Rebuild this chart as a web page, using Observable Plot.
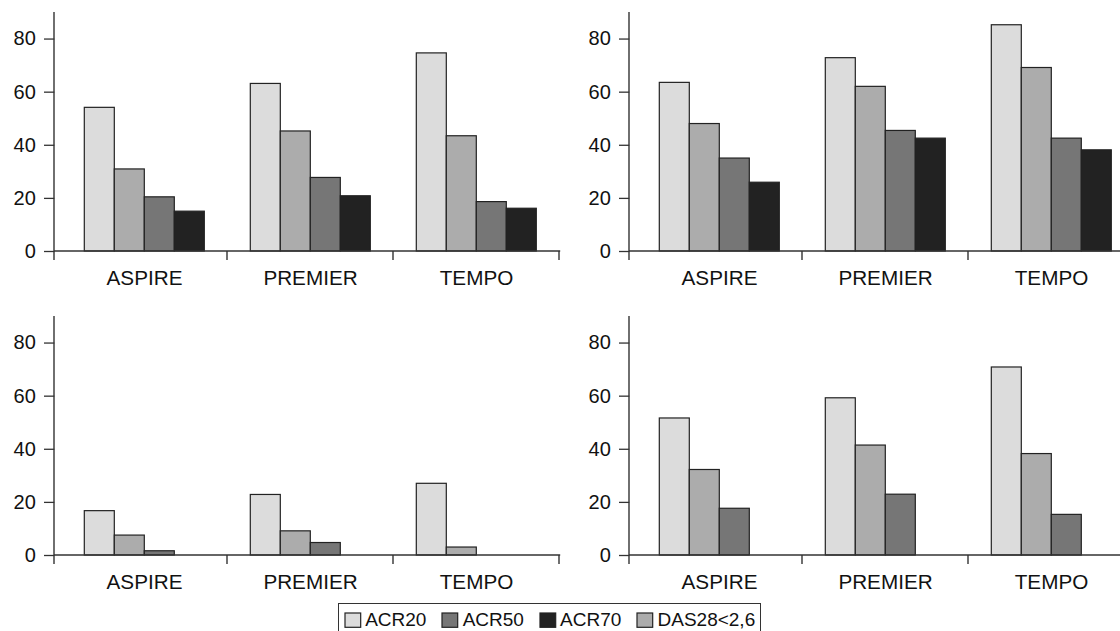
<!DOCTYPE html>
<html>
<head>
<meta charset="utf-8">
<script src="https://cdn.jsdelivr.net/npm/d3@7"></script>
<script src="https://cdn.jsdelivr.net/npm/@observablehq/plot@0.6"></script>
<style>
html, body { margin: 0; padding: 0; background: #fff; overflow: hidden; }
#wrap { position: relative; width: 1120px; height: 631px; overflow: hidden; font-family: "Liberation Sans", Arial, sans-serif; }
.panel { position: absolute; width: 575px; height: 304px; }
#legendBox { position: absolute; left: 338px; top: 603px; border: 1.3px solid #333; padding: 5px 5px 12px 6px; background: #fff; }
#legendBox > div { font-family: "Liberation Sans", Arial, sans-serif; font-size: 19px; color: #111; margin: 0; min-height: 0; display: flex; align-items: center; flex-wrap: nowrap; }
#legendBox span { display: inline-flex; align-items: center; margin-right: 16px; }
#legendBox span:last-child { margin-right: 0; }
#legendBox span > svg { margin-right: 4.5px; overflow: visible; }
#legendBox span rect { stroke: #222; stroke-width: 1.2px; }
</style>
</head>
<body>
<div id="wrap">
  <div class="panel" id="tl" style="left:0;top:0"></div>
  <div class="panel" id="tr" style="left:575px;top:0"></div>
  <div class="panel" id="bl" style="left:0;top:304px"></div>
  <div class="panel" id="br" style="left:575px;top:304px"></div>
  <div id="legendBox"></div>
</div>
<script>
// ---- data ----
const studies = ["ASPIRE", "PREMIER", "TEMPO"];
const barSeries = ["ACR20", "DAS28<2,6", "ACR50", "ACR70"];      // order of bars inside a group
const legendSeries = ["ACR20", "ACR50", "ACR70", "DAS28<2,6"];   // order in the legend
const legendColors = ["#dcdcdc", "#767676", "#222222", "#acacac"];
const yTicks = [0, 20, 40, 60, 80];
const yMax = 90;
// rows = studies, columns = barSeries (null = no bar)
const topLeft     = [[54.1, 30.9, 20.4, 15.0], [63.1, 45.2, 27.7, 20.8], [74.6, 43.4, 18.6, 16.1]];
const topRight    = [[63.5, 48.0, 35.0, 25.9], [72.8, 62.0, 45.4, 42.5], [85.2, 69.1, 42.5, 38.1]];
const bottomLeft  = [[16.7, 7.5, 1.6, null], [22.8, 9.1, 4.7, null], [27.0, 3.0, null, null]];
const bottomRight = [[51.6, 32.2, 17.6, null], [59.2, 41.4, 22.9, null], [70.8, 38.2, 15.3, null]];

const FONT = "'Liberation Sans', Arial, Helvetica, sans-serif";

function panel(values) {
  const data = [];
  studies.forEach((s, i) => barSeries.forEach((k, j) => {
    const v = values[i][j];
    if (v != null) data.push({study: s, series: k, value: v});
  }));
  const chart = Plot.plot({
    width: 575, height: 304,
    marginLeft: 60.7, marginRight: 14.8, marginTop: 12, marginBottom: 53,
    style: {fontFamily: FONT, fontSize: "20px", color: "#111", background: "transparent"},
    fx: {domain: studies, padding: 0, axis: null, label: null},
    x: {domain: barSeries, paddingInner: 0, paddingOuter: 0.73, axis: null},
    y: {domain: [0, yMax], axis: null},
    color: {domain: legendSeries, range: legendColors},
    marks: [
      Plot.barY(data, {fx: "study", x: "series", y: "value", fill: "series", stroke: "#222", strokeWidth: 1.2, inset: 0}),
      Plot.axisY({ticks: yTicks, tickSize: 10.3, tickPadding: 8.7, dx: -6.7, fontSize: 20, stroke: "#333", fill: "#111", strokeWidth: 1.3, label: null}),
      Plot.axisFx({anchor: "bottom", tickSize: 0, tickPadding: 18.3, fontSize: 20.7, fill: "#111", label: null})
    ]
  });
  // axis line, baseline and group separators, placed with the plot's own scales
  const fxS = chart.scale("fx"), yS = chart.scale("y");
  const y0 = yS.apply(0), yTop = yS.apply(yMax);
  const axisX = fxS.range[0] - 6.7;
  const g = d3.select(chart).append("g").attr("stroke", "#333").attr("stroke-width", 1.4).attr("fill", "none");
  g.append("line").attr("x1", axisX).attr("x2", axisX).attr("y1", yTop).attr("y2", y0 + 9);
  g.append("line").attr("x1", axisX).attr("x2", fxS.range[1]).attr("y1", y0).attr("y2", y0);
  studies.forEach(s => {
    const xr = fxS.apply(s) + fxS.bandwidth;
    g.append("line").attr("x1", xr).attr("x2", xr).attr("y1", y0).attr("y2", y0 + 9);
  });
  return chart;
}

const tl = panel(topLeft);
document.getElementById("tl").appendChild(tl);
document.getElementById("tr").appendChild(panel(topRight));
document.getElementById("bl").appendChild(panel(bottomLeft));
document.getElementById("br").appendChild(panel(bottomRight));

const legend = tl.legend("color", {swatchWidth: 15.7, swatchHeight: 14.3, className: "lg"});
document.getElementById("legendBox").appendChild(legend);
</script>
</body>
</html>
